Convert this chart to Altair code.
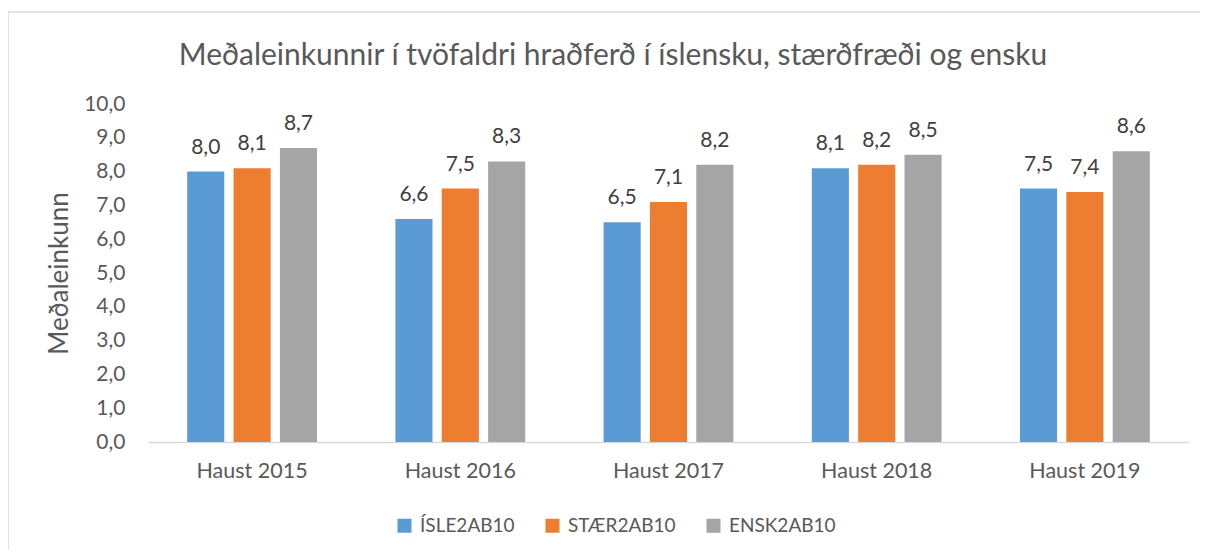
import altair as alt
import pandas as pd

years = ["Haust 2015", "Haust 2016", "Haust 2017", "Haust 2018", "Haust 2019"]
series = ["ÍSLE2AB10", "STÆR2AB10", "ENSK2AB10"]
isle = [8.0, 6.6, 6.5, 8.1, 7.5]
staer = [8.1, 7.5, 7.1, 8.2, 7.4]
ensk = [8.7, 8.3, 8.2, 8.5, 8.6]
colors = ["#5B9BD5", "#ED7D31", "#A5A5A5"]
tick_values = [0, 1, 2, 3, 4, 5, 6, 7, 8, 9, 10]
title_text = "Meðaleinkunnir í tvöfaldri hraðferð í íslensku, stærðfræði og ensku"

rows = []
for name, vals in zip(series, [isle, staer, ensk]):
    for y, v in zip(years, vals):
        rows.append({"ár": y, "grein": name, "einkunn": v})
df = pd.DataFrame(rows)

FONT = "Lato"
TXT = "#595959"
W, H = 1041, 338

yaxis = alt.Axis(values=tick_values,
                 labelExpr="replace(format(datum.value, '.1f'), '.', ',')",
                 labelFontSize=21, labelColor=TXT, labelFont=FONT,
                 labelOverlap=False, labelFlush=False, labelBound=False,
                 labelPadding=23, ticks=False, domain=False, grid=False,
                 titleFontSize=26, titleFont=FONT, titleColor=TXT,
                 titleFontWeight="normal", titleAngle=-90,
                 titleX=-89, titleY=169, titleAlign="center",
                 titleBaseline="middle")

base = alt.Chart(df).encode(
    x=alt.X("ár:N", sort=years, title=None,
            scale=alt.Scale(paddingInner=0.332, paddingOuter=0.166),
            axis=alt.Axis(labelAngle=0, labelFontSize=21.5, labelColor=TXT, labelFont=FONT,
                          labelPadding=18, ticks=False, domainColor="#d9d9d9",
                          domainWidth=1.5, grid=False)),
    xOffset=alt.XOffset("grein:N", sort=series,
                        scale=alt.Scale(paddingInner=0.2, paddingOuter=0.1)),
    y=alt.Y("einkunn:Q", title="Meðaleinkunn",
            scale=alt.Scale(domain=[0, 10], nice=False), axis=yaxis),
)

bars = base.mark_bar().encode(
    color=alt.Color("grein:N", sort=series,
                    scale=alt.Scale(domain=series, range=colors),
                    legend=alt.Legend(title=None, orient="none", legendX=247, legendY=412,
                                      direction="horizontal", symbolType="square",
                                      symbolSize=196, symbolStrokeWidth=0,
                                      labelFontSize=19, labelColor=TXT, labelFont=FONT,
                                      labelOffset=6, columnPadding=28)),
)

labels = base.mark_text(baseline="alphabetic", dy=-18, fontSize=21, font=FONT,
                        color="#404040").transform_calculate(
    lbl="replace(format(datum.einkunn, '.1f'), '.', ',')"
).encode(
    text=alt.Text("lbl:N"),
)

deco = alt.Chart(pd.DataFrame({"t": [title_text]}))
border = deco.mark_rect(
    fill=None, stroke="#d9d9d9", strokeWidth=1.5
).encode(
    x=alt.value(-140), x2=alt.value(1300), y=alt.value(-92), y2=alt.value(700)
)
title = deco.mark_text(
    fontSize=30, font=FONT, color=TXT, align="center", baseline="alphabetic"
).encode(
    x=alt.value(465), y=alt.value(-39), text="t:N"
)

chart = alt.layer(bars, labels, border, title).properties(
    width=W, height=H,
    autosize=alt.AutoSizeParams(type="none"),
    padding={"left": 140, "top": 96, "right": 11, "bottom": 107},
).configure_view(stroke=None).configure_axis(labelOverlap=False)

chart.save("out.html", embed_options={"renderer": "svg", "actions": False})
